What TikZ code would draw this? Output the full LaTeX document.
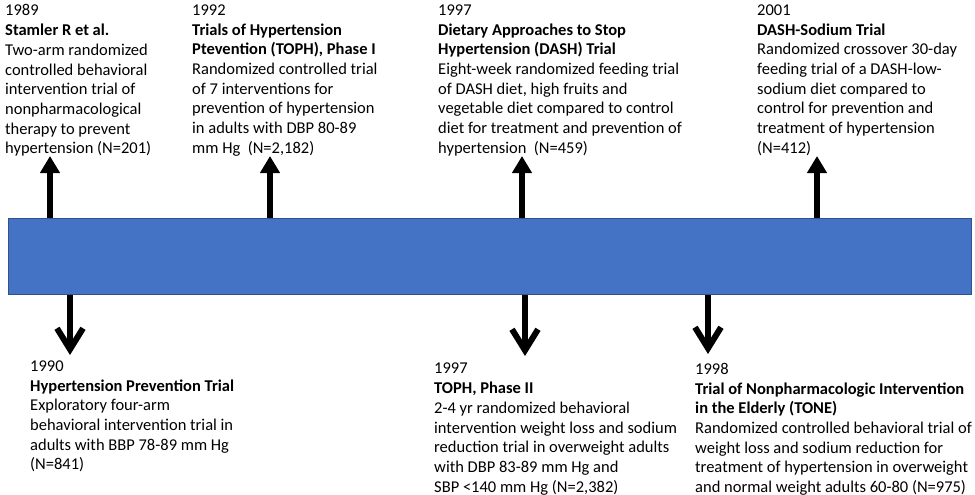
\documentclass[tikz,border=0pt]{standalone}
\usepackage{fontspec}
\setmainfont{Carlito}
\usetikzlibrary{arrows.meta}
\definecolor{barfill}{HTML}{4472C4}
\definecolor{bardraw}{HTML}{2F528F}
\begin{document}
\begin{tikzpicture}[x=1pt,y=-1pt,
  txt/.style={anchor=north west,inner sep=0pt,align=left,font=\fontsize{16.5}{19.7}\selectfont},
  uparrow/.style={line width=6.5pt,-{Triangle[length=17pt,width=19pt]}},
  downarrow/.style={line width=6pt,-{Straight Barb[length=21pt,width=26pt]}}]
\useasboundingbox (0,0) rectangle (975,495);
\node[draw=bardraw,fill=barfill,line width=1.2pt,minimum width=963pt,minimum height=76pt,inner sep=0pt,anchor=north west] (bar) at (8,218) {};
% top texts
\node[txt] (t1) at (5,4.5) {1989\\\textbf{Stamler R et al.}\\Two-arm randomized\\controlled behavioral\\intervention trial of\\nonpharmacological\\therapy to prevent\\hypertension (N=201)};
\node[txt] (t2) at (192,4.5) {1992\\\textbf{Trials of Hypertension}\\\textbf{Ptevention (TOPH), Phase I}\\Randomized controlled trial\\of 7 interventions for\\prevention of hypertension\\in adults with DBP 80-89\\mm Hg\ \ (N=2,182)};
\node[txt] (t3) at (438,4.5) {1997\\\textbf{Dietary Approaches to Stop}\\\textbf{Hypertension (DASH) Trial}\\Eight-week randomized feeding trial\\of DASH diet, high fruits and\\vegetable diet compared to control\\diet for treatment and prevention of\\hypertension\ \ (N=459)};
\node[txt] (t4) at (757,4.5) {2001\\\textbf{DASH-Sodium Trial}\\Randomized crossover 30-day\\feeding trial of a DASH-low-\\sodium diet compared to\\control for prevention and\\treatment of hypertension\\(N=412)};
% bottom texts
\node[txt] (b1) at (30,360.5) {1990\\\textbf{Hypertension Prevention Trial}\\Exploratory four-arm\\behavioral intervention trial in\\adults with BBP 78-89 mm Hg\\(N=841)};
\node[txt] (b2) at (434,363) {1997\\\textbf{TOPH, Phase II}\\2-4 yr randomized behavioral\\intervention weight loss and sodium\\reduction trial in overweight adults\\with DBP 83-89 mm Hg and\\SBP <140 mm Hg (N=2,382)};
\node[txt] (b3) at (695,363) {1998\\\textbf{Trial of Nonpharmacologic Intervention}\\\textbf{in the Elderly (TONE)}\\Randomized controlled behavioral trial of\\weight loss and sodium reduction for\\treatment of hypertension in overweight\\and normal weight adults 60-80 (N=975)};
% arrow tips
\coordinate (u1) at (50,156);
\coordinate (u2) at (270,156);
\coordinate (u3) at (522,156);
\coordinate (u4) at (817,156);
\coordinate (d1) at (70,355);
\coordinate (d2) at (525,356);
\coordinate (d3) at (708,354);
\foreach \c in {u1,u2,u3,u4}{\draw[uparrow] (\c |- bar.north) -- (\c);}
\foreach \c in {d1,d2,d3}{\draw[downarrow] (\c |- bar.south) -- (\c);}
\end{tikzpicture}
\end{document}
